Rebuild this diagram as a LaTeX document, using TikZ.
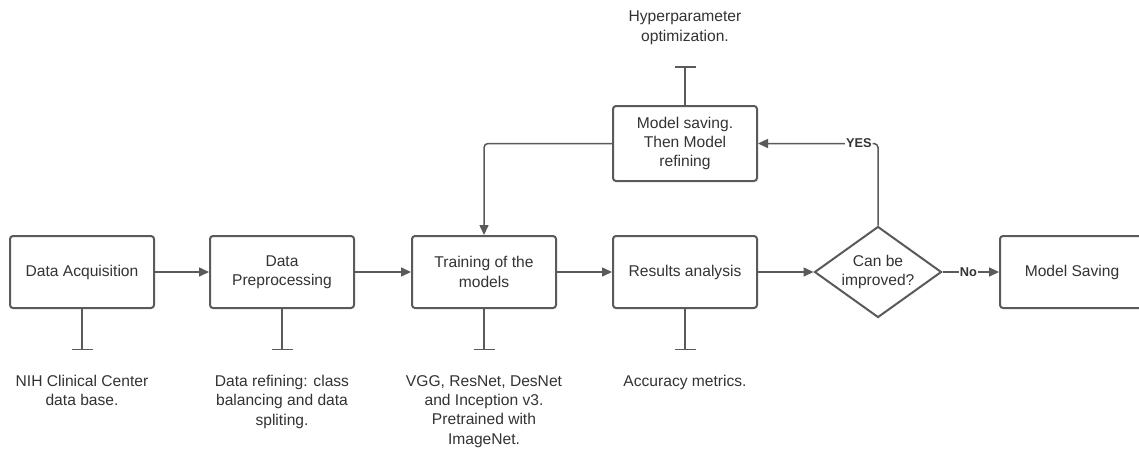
\documentclass[tikz,border=0pt]{standalone}
\usepackage{fontspec}
\setmainfont{Liberation Sans}
\usetikzlibrary{arrows.meta,shapes.geometric}
\definecolor{linegray}{HTML}{5A5A5A}
\definecolor{textgray}{HTML}{333333}
\begin{document}
\begin{tikzpicture}[x=1pt,y=-1pt,
  every node/.style={text=textgray, font=\fontsize{15.6}{19.3}\selectfont},
  stage/.style={draw=linegray, line width=2pt, rounded corners=3pt, fill=white,
    minimum width=144pt, minimum height=72pt, inner sep=0pt, align=center},
  decision/.style={diamond, draw=linegray, line width=2pt, fill=white, aspect=1.4,
    minimum width=127pt, minimum height=91pt, inner sep=0pt, align=center},
  flow/.style={draw=linegray, line width=1.5pt, -{Triangle[length=10pt,width=9pt]}},
  tee/.style={draw=linegray, line width=1.5pt, -{Bar[width=21pt]}},
  note/.style={anchor=north, align=center, inner sep=0pt},
  tag/.style={fill=white, inner sep=1pt, font=\bfseries\fontsize{12.8}{14}\selectfont}
]
\clip (0,0) rectangle (1139,448);
\fill[white] (0,0) rectangle (1139,448);

% main pipeline
\node[stage] (acq)   at (82,272)  {Data Acquisition};
\node[stage] (pre)   at (282,272) {Data\\Preprocessing};
\node[stage] (train) at (484,272) {Training of the\\models};
\node[stage] (res)   at (685,272) {Results analysis};
\node[decision] (dec) at (878,272) {Can be\\improved?};
\node[stage] (save)  at (1072,272) {Model Saving};
\node[stage, minimum height=75pt] (refine) at (685,143.5) {Model saving.\\Then Model\\refining};

\draw[flow] (acq) -- (pre);
\draw[flow] (pre) -- (train);
\draw[flow] (train) -- (res);
\draw[flow] (res) -- (dec);
\draw[flow] (dec) -- node[tag, pos=0.46] {No} (save);
\draw[flow, rounded corners=4pt] (dec.north) |- node[tag, pos=0.58] {YES} (refine.east);
\draw[flow, rounded corners=4pt] (refine.west) -| (train.north);

% annotations
\coordinate (tAcq)   at (82,350);
\coordinate (tPre)   at (282,350);
\coordinate (tTrain) at (484,350);
\coordinate (tRes)   at (685,350);
\coordinate (tRef)   at (685,66);
\draw[tee] (acq.south) -- (tAcq);
\draw[tee] (pre.south) -- (tPre);
\draw[tee] (train.south) -- (tTrain);
\draw[tee] (res.south) -- (tRes);
\draw[tee] (refine.north) -- (tRef);

\node[note] (nAcq)   at (82,375)  {NIH Clinical Center\\data base.};
\node[note] (nPre)   at (282,375) {Data refining: class\\balancing and data\\spliting.};
\node[note] (nTrain) at (484,375) {VGG, ResNet, DesNet\\and Inception v3.\\Pretrained with\\ImageNet.};
\node[note] (nRes)   at (685,375) {Accuracy metrics.};
\node[note] (nRef)   at (685,11)  {Hyperparameter\\optimization.};
\end{tikzpicture}
\end{document}
